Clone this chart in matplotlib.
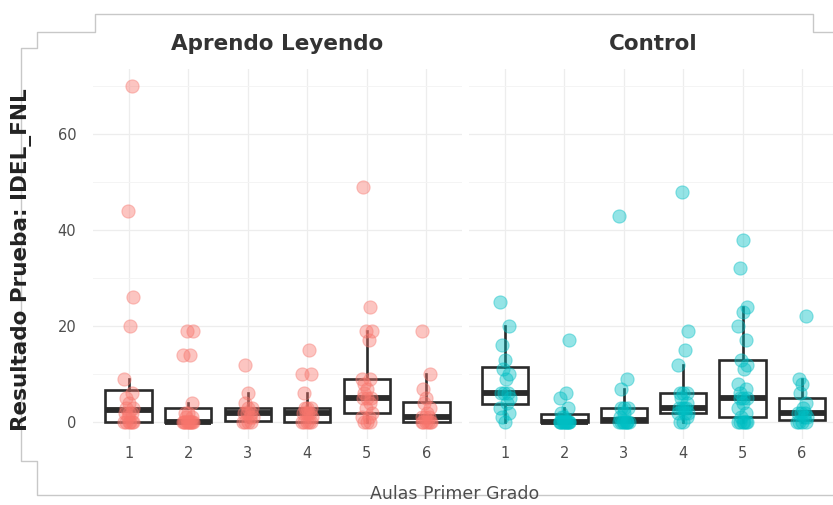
import numpy as np
import matplotlib
matplotlib.use('Agg')
import matplotlib.pyplot as plt
from matplotlib.lines import Line2D

matplotlib.rcParams.update({'font.family': 'DejaVu Sans'})

# values (IDEL_FNL score per pupil, by classroom)
aulas = ['1', '2', '3', '4', '5', '6']
grupos = ['Aprendo Leyendo', 'Control']

al_1 = [0, 0, 0, 0, 0, 0, 1, 2, 2, 2, 3, 3, 4, 5, 6, 9, 20, 26, 44, 70]
al_2 = [0, 0, 0, 0, 0, 0, 0, 0, 0, 0, 1, 1, 2, 2, 4, 14, 14, 19, 19]
al_3 = [0, 0, 0, 0, 1, 1, 2, 2, 2, 3, 3, 4, 6, 12]
al_4 = [0, 0, 0, 0, 0, 1, 2, 2, 2, 2, 3, 3, 3, 6, 10, 10, 15]
al_5 = [0, 0, 0, 1, 1, 2, 3, 4, 5, 5, 5, 6, 7, 8, 9, 9, 17, 19, 19, 24, 49]
al_6 = [0, 0, 0, 0, 0, 0, 1, 1, 1, 2, 3, 4, 5, 7, 10, 19]

ct_1 = [0, 1, 2, 3, 4, 5, 6, 6, 6, 9, 10, 11, 13, 16, 20, 25]
ct_2 = [0, 0, 0, 0, 0, 0, 0, 0, 0, 0, 0, 1, 1, 2, 3, 5, 6, 17]
ct_3 = [0, 0, 0, 0, 0, 0, 0, 0, 1, 2, 3, 3, 3, 7, 9, 43]
ct_4 = [0, 0, 1, 2, 2, 2, 3, 3, 3, 3, 4, 5, 6, 6, 6, 12, 15, 19, 48]
ct_5 = [0, 0, 0, 0, 0, 0, 1, 2, 3, 4, 5, 5, 5, 6, 7, 8, 11, 12, 13, 17, 20, 23, 24, 32, 38]
ct_6 = [0, 0, 0, 0, 1, 1, 2, 2, 2, 3, 4, 6, 8, 9, 22]

al_l = [al_1, al_2, al_3, al_4, al_5, al_6]
ct_l = [ct_1, ct_2, ct_3, ct_4, ct_5, ct_6]
color_l = ['#F8766D', '#00BFC4']

# small fixed horizontal offsets so overlapping points spread a bit
jitter_l = [0.0, -0.05, 0.06, -0.08, 0.03, 0.08, -0.02, 0.05, -0.07, 0.01, 0.07, -0.04]

W, H = 833, 505
fig = plt.figure(figsize=(W / 100, H / 100), dpi=100)


def px_box(x0, x1, ytop, ybot):
    return [x0 / W, 1 - ybot / H, (x1 - x0) / W, (ybot - ytop) / H]


ax_l = [fig.add_axes(px_box(93, 462, 69, 439)),
        fig.add_axes(px_box(469.3, 837.7, 69, 439))]

for ax, data_l, color, title in zip(ax_l, [al_l, ct_l], color_l, grupos):
    pos = np.arange(1, len(aulas) + 1)
    ax.boxplot(data_l, positions=pos, widths=0.78, showfliers=False, showcaps=False,
               patch_artist=True, zorder=2,
               boxprops=dict(facecolor='none', edgecolor='#2b2b2b', linewidth=1.9),
               whiskerprops=dict(color='#2b2b2b', linewidth=1.9),
               medianprops=dict(color='#2b2b2b', linewidth=4.2, solid_capstyle='butt'))
    for i, vals in enumerate(data_l):
        xs = [pos[i] + jitter_l[k % len(jitter_l)] for k in range(len(vals))]
        ax.scatter(xs, vals, s=90, color=color, alpha=0.42, edgecolors=color,
                   linewidths=0.8, zorder=3)

    ax.set_xlim(0.4, 6.6)
    ax.set_ylim(-3.5, 73.5)
    ax.set_yticks([0, 20, 40, 60])
    ax.set_yticks([10, 30, 50, 70], minor=True)
    ax.set_xticks(pos, aulas)
    ax.grid(True, which='major', color='#ededed', linewidth=0.9, zorder=0)
    ax.grid(True, which='minor', axis='y', color='#f4f4f4', linewidth=0.7, zorder=0)
    ax.set_axisbelow(True)
    for s in ax.spines.values():
        s.set_visible(False)
    ax.tick_params(which='both', length=0, labelsize=10.5, colors='#4d4d4d', pad=5)
    ax.tick_params(axis='y', pad=12)
    ax.set_title(title, fontsize=15.5, fontweight='bold', color='#333333', pad=14)

ax_l[1].tick_params(axis='y', labelleft=False)

fig.text(22 / W, 1 - 260 / H, 'Resultado Prueba: IDEL_FNL', rotation=90, ha='center', va='center',
         fontsize=15.5, fontweight='bold', color='#222222')
fig.text(455 / W, 1 - 494 / H, 'Aulas Primer Grado', ha='center', va='center',
         fontsize=12.5, color='#4d4d4d')

# light paper-like frame around the screenshot
frame = [(833, 495), (37, 495), (37, 461), (21, 461), (21, 48), (37, 48), (37, 32),
         (95, 32), (95, 14), (813, 14), (813, 32), (833, 32)]
fig.add_artist(Line2D([p[0] / W for p in frame], [1 - p[1] / H for p in frame],
                      color='#c8c8c8', linewidth=1.0, zorder=0))

plt.savefig('out.png', dpi=100)
